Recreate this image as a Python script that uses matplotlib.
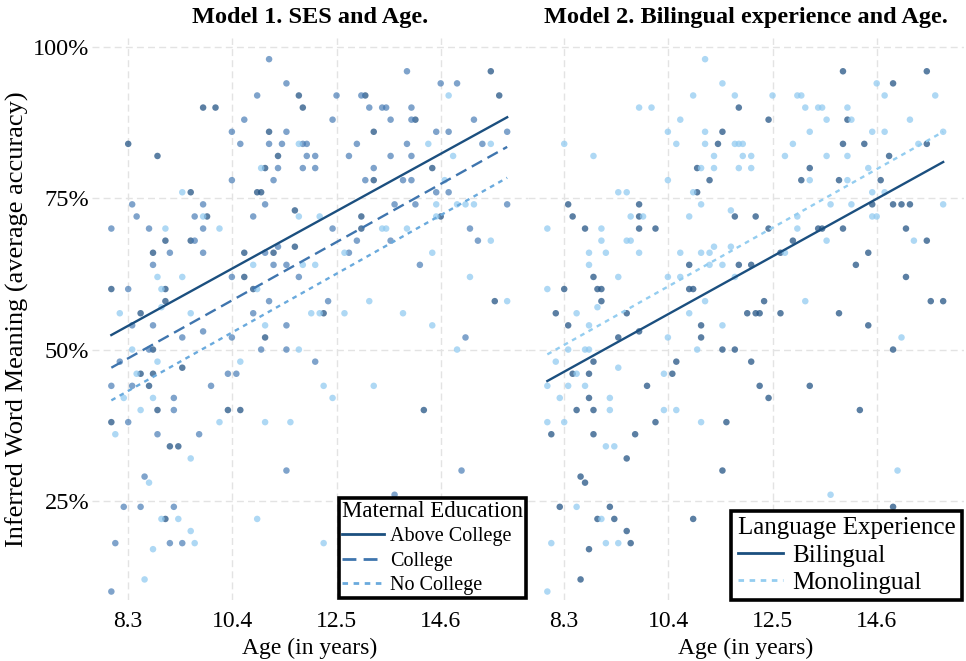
import matplotlib
matplotlib.use("Agg")
import matplotlib.pyplot as plt
from matplotlib.lines import Line2D

plt.rcParams['font.family'] = ['Liberation Serif', 'DejaVu Serif']

# ---------------- data ----------------
age = [
    11.14,
    13.92, 15.61,
    11.49, 14.60, 14.93,
    10.90, 11.74, 12.50, 13.00, 13.08, 14.76, 15.78,
    9.81, 10.06, 11.82, 13.16, 13.42, 13.50, 14.01,
    10.64, 12.42, 13.59, 14.01, 14.09, 15.27,
    10.39, 11.14, 11.49, 13.25, 14.51, 14.76, 15.94,
    8.30, 10.56, 11.14, 11.40, 11.74, 11.82, 11.90, 12.91, 13.92, 14.35, 15.44, 15.61,
    8.89, 11.32, 11.90, 12.07, 12.75, 13.59, 14.01, 14.85,
    10.98, 11.06, 11.32, 11.82, 12.07, 13.25, 14.43,
    10.39, 11.23, 13.08, 13.25, 13.84, 14.01, 14.68,
    9.39, 9.56, 10.90, 10.98, 14.51, 14.76,
    8.38, 9.81, 11.06, 13.67, 14.09, 14.51, 14.93, 15.10, 15.27, 15.94,
    11.66,
    8.47, 9.64, 9.81, 9.89, 10.82, 11.74, 12.16, 13.00, 14.51, 14.60,
    7.96, 8.72, 9.05, 9.81, 10.14, 12.42, 13.00, 13.42, 13.50, 13.92, 15.19,
    9.05, 9.56, 9.64, 12.91, 13.59, 15.35, 15.61,
    11.32, 11.66,
    8.80, 9.14, 9.81, 10.64, 11.06, 11.23, 12.66, 12.75, 14.43,
    8.80, 10.82, 11.23, 11.49, 11.82, 12.07, 14.18,
    8.89, 9.39, 10.39, 10.64, 11.74, 15.19,
    7.96, 8.30, 8.97, 9.05, 10.82, 10.90,
    9.05, 11.14, 12.33, 13.16, 15.69, 15.94,
    8.97,
    8.13, 8.55, 9.56, 10.82, 11.99, 12.16, 12.24, 12.66, 13.84,
    8.38, 8.80, 11.06, 11.49, 14.43,
    9.81,
    9.39, 10.39, 11.06, 15.10,
    8.38, 8.72, 8.80, 10.98, 11.49, 11.74, 14.93,
    8.13, 8.89, 10.56, 12.07,
    9.39,
    8.47, 8.55, 8.80, 10.31, 10.48,
    7.96, 8.38, 8.72, 9.97, 12.24, 13.25,
    8.21, 8.80, 9.22, 12.42,
    8.55, 8.89, 9.22, 10.31, 10.56, 14.26,
    7.96, 8.30, 10.14, 11.06, 11.57,
    8.04, 8.89, 9.73,
    9.14, 9.31,
    9.56,
    11.49, 15.02,
    8.63,
    8.72,
    13.67,
    8.21, 8.55, 9.22, 14.93,
    8.97, 9.05, 9.31, 10.90,
    9.56,
    8.04, 9.14, 9.39, 9.64, 12.24,
    8.80,
    8.63,
    7.96,
]

accuracy = (
    [98] + [96] * 2 + [94] * 3 + [92] * 7 + [90] * 7 + [88] * 6 + [86] * 7
    + [84] * 12 + [82] * 8 + [80] * 7 + [78] * 7 + [76] * 6 + [74] * 10
    + [73] + [72] * 10 + [70] * 11 + [68] * 7 + [67] * 2 + [66] * 9
    + [64] * 7 + [62] * 6 + [60] * 6 + [58] * 6 + [57] + [56] * 9 + [54] * 5
    + [53] + [52] * 4 + [50] * 7 + [48] * 4 + [47] + [46] * 5 + [44] * 6
    + [42] * 4 + [40] * 6 + [38] * 5 + [36] * 3 + [34] * 2 + [32] + [30] * 2
    + [29] + [28] + [26] + [24] * 4 + [22] * 4 + [20] + [18] * 5 + [17]
    + [12] + [10]
)

# A = Above College, C = College, N = No College
maternal_edu = list(
    "C" "CA" "CCC" "CACCANA" "AAACCCC" "CCCCAC" "CACACCC"
    "ACCCNCCCCNCN" "AACCCCCN" "NACCCCA" "CCCACCN" "NAAACC" "CCCCCNNNNC"
    "A" "CCNACNNANA" "CCNCNCANNNC" "AACCCCN" "CA" "ACCACANCN"
    "CNCCNNC" "NNCACN" "ACNAAN" "ACCNAN" "N" "NANCNNANN" "CCNCN"
    "C" "CCAC" "NCACCNN" "CNNC" "A" "NAACC" "CCACNN"
    "NNCN" "NACAAA" "ACNNN" "NCC" "AA" "N" "CC"
    "C" "N" "C" "CCCC" "NANN" "N" "CCCNN" "N" "N" "C"
)

# B = Bilingual, M = Monolingual
language = list(
    "M" "BB" "MMB" "MMMMMMM" "MMBMMMM" "MBMBMM" "MMBMMMM"
    "MMMBMMMMBBMB" "MMMMMMMB" "BMMMMBM" "MBBMBMB" "MMMBMM" "BBMMMBBBBM"
    "M" "BMBMMBBMMM" "MBMBBBMBBBB" "MMMBMMB" "MM" "MMMMMMBMB"
    "MBMMBBB" "BMMMMB" "MBBBBB" "BMBMBB" "M" "BMBMBBBBB" "BMBMB"
    "B" "BMBM" "MMMMBBB" "MBBB" "M" "BMBMB" "MMMBBB"
    "MBMB" "BBMMMB" "MMBMB" "BBB" "MM" "B" "BM"
    "B" "B" "M" "BMBB" "BMBB" "B" "MMMBM" "B" "B" "M"
)

edu_levels = ["Above College", "College", "No College"]
edu_codes = ["A", "C", "N"]
lang_levels = ["Bilingual", "Monolingual"]
lang_codes = ["B", "M"]

# fitted lines: value at first and last age
fit_age = [7.96, 15.94]
fit_edu = {"Above College": [52.4, 88.4], "College": [47.0, 83.5], "No College": [41.6, 78.4]}
fit_lang = {"Bilingual": [44.8, 81.0], "Monolingual": [49.2, 86.0]}

x_ticks = [8.3, 10.4, 12.5, 14.6]
y_ticks = [25, 50, 75, 100]
y_tick_labels = ["25%", "50%", "75%", "100%"]

# ---------------- styles ----------------
pt_colors = {"A": (0.14, 0.33, 0.52, 0.75), "C": (0.26, 0.47, 0.70, 0.68),
             "N": (0.56, 0.79, 0.94, 0.72), "B": (0.14, 0.33, 0.52, 0.75),
             "M": (0.56, 0.79, 0.94, 0.72)}
line_styles = {
    "Above College": dict(color="#1b4f7f", ls="-", lw=1.7),
    "College": dict(color="#3f75ae", ls=(0, (5, 2.6)), lw=1.7),
    "No College": dict(color="#6aaadd", ls=(0, (2, 2)), lw=1.7),
    "Bilingual": dict(color="#1b4f7f", ls="-", lw=1.7),
    "Monolingual": dict(color="#94cdf0", ls=(0, (2, 2)), lw=1.7),
}

fig = plt.figure(figsize=(9.66, 6.61), dpi=100)
ax1 = fig.add_axes([92 / 966, 1 - 600 / 661, 436 / 966, 562 / 661])
ax2 = fig.add_axes([528 / 966, 1 - 600 / 661, 436 / 966, 562 / 661])

for ax in (ax1, ax2):
    ax.set_xlim(7.57, 16.36)
    ax.set_ylim(8.6, 101.5)
    ax.set_xticks(x_ticks)
    ax.set_xticklabels([str(t) for t in x_ticks], fontsize=17)
    ax.set_yticks(y_ticks)
    for s in ax.spines.values():
        s.set_visible(False)
    ax.grid(True, color="#e3e3e3", ls=(0, (5, 3)), lw=1.0)
    ax.set_axisbelow(True)
    ax.tick_params(length=0, pad=8)
    ax.set_xlabel("Age (in years)", fontsize=17, labelpad=4)

ax1.set_yticklabels(y_tick_labels, fontsize=17.5)
ax2.set_yticklabels([])
ax1.tick_params(axis="y", pad=2)
ax1.set_ylabel("Inferred Word Meaning (average accuracy)", fontsize=19, labelpad=3)

# panel 1
for code in edu_codes:
    xs = [a for a, e in zip(age, maternal_edu) if e == code]
    ys = [v for v, e in zip(accuracy, maternal_edu) if e == code]
    ax1.scatter(xs, ys, s=22, color=pt_colors[code], edgecolors="none", zorder=2)
handles1 = []
for lvl in edu_levels:
    st = line_styles[lvl]
    ax1.plot(fit_age, fit_edu[lvl], color=st["color"], ls=st["ls"], lw=st["lw"], zorder=3)
    handles1.append(Line2D([], [], color=st["color"], ls=st["ls"], lw=st["lw"] + 0.3, label=lvl))
ax1.set_title("Model 1. SES and Age.", fontsize=17.5, fontweight="bold", pad=11)
leg1 = ax1.legend(handles=handles1, title="Maternal Education", loc="lower right",
                  bbox_to_anchor=(1.0, 0.0), fontsize=14.5, title_fontsize=16.5,
                  frameon=True, fancybox=False, edgecolor="black", framealpha=1,
                  borderpad=0.15, labelspacing=0.26, handlelength=2.1, handletextpad=0.3,
                  borderaxespad=0.1, alignment="left")
leg1.get_frame().set_linewidth(2.6)

# panel 2
for code in lang_codes:
    xs = [a for a, e in zip(age, language) if e == code]
    ys = [v for v, e in zip(accuracy, language) if e == code]
    ax2.scatter(xs, ys, s=22, color=pt_colors[code], edgecolors="none", zorder=2)
handles2 = []
for lvl in lang_levels:
    st = line_styles[lvl]
    ax2.plot(fit_age, fit_lang[lvl], color=st["color"], ls=st["ls"], lw=st["lw"], zorder=3)
    handles2.append(Line2D([], [], color=st["color"], ls=st["ls"], lw=st["lw"] + 0.3, label=lvl))
ax2.set_title("Model 2. Bilingual experience and Age.", fontsize=17.5, fontweight="bold", pad=11)
leg2 = ax2.legend(handles=handles2, title="Language Experience", loc="lower right",
                  bbox_to_anchor=(1.0, -0.005), fontsize=18, title_fontsize=18,
                  frameon=True, fancybox=False, edgecolor="black", framealpha=1,
                  borderpad=0.25, labelspacing=0.2, handlelength=1.8, handletextpad=0.4,
                  borderaxespad=0.1, alignment="left")
leg2.get_frame().set_linewidth(2.6)

fig.savefig("out.png", dpi=100)
